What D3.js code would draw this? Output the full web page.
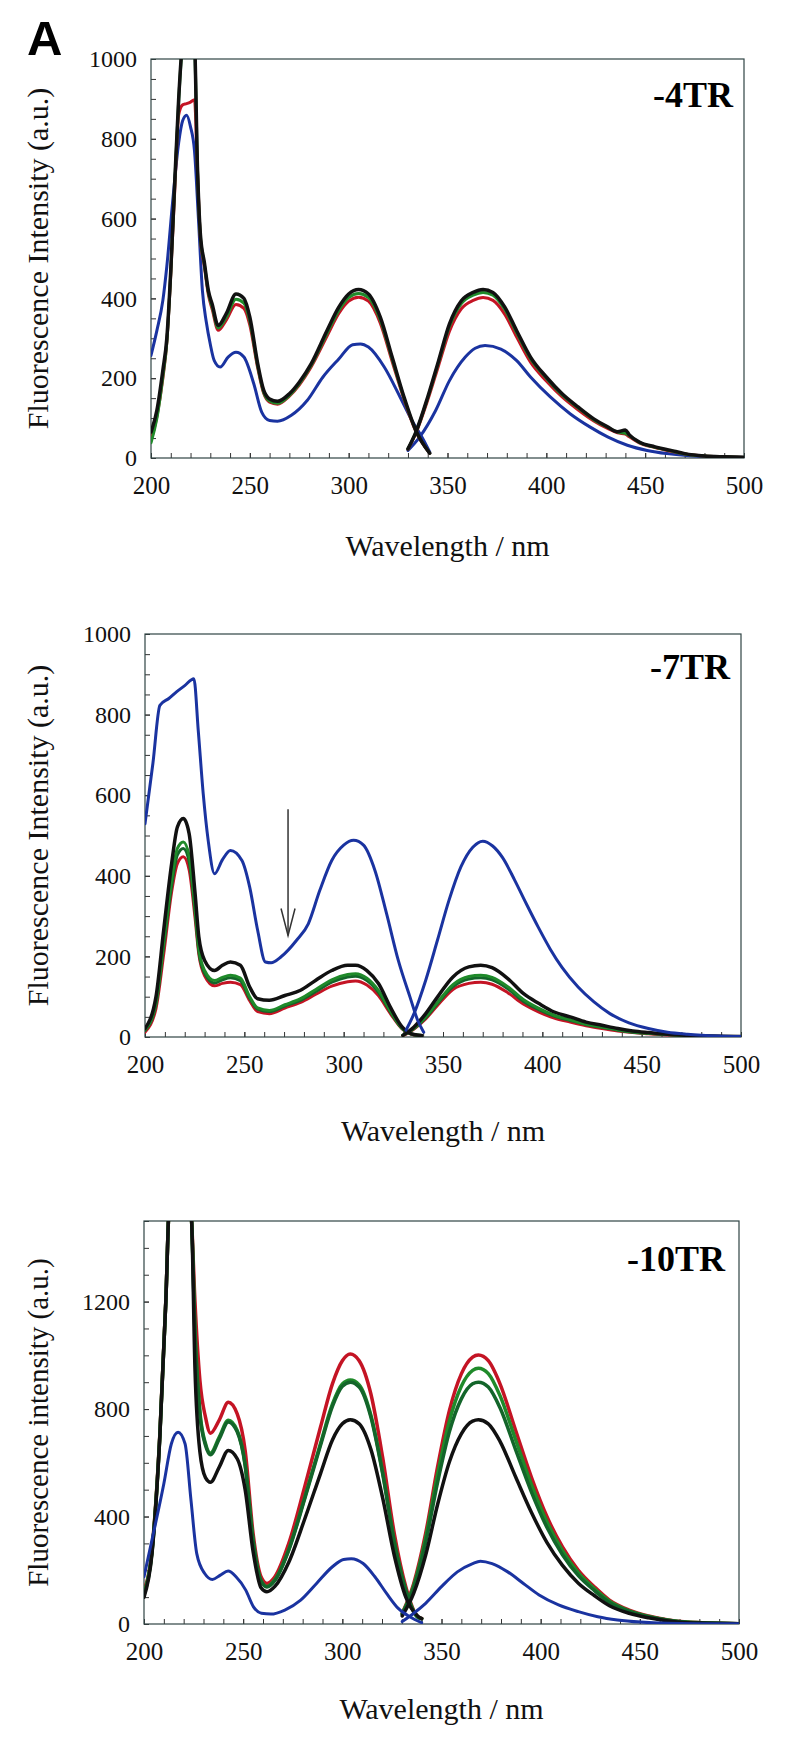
<!DOCTYPE html>
<html>
<head>
<meta charset="utf-8">
<script src="https://cdn.jsdelivr.net/npm/d3@7"></script>
<style>
  html, body { margin: 0; padding: 0; background: #fff; }
  svg { display: block; }
</style>
</head>
<body>
<script>
// ---------------- DATA ----------------
// Panel 1 (-4TR)
const p1W1 = [200,203,206,208,210,212,214,216,218,220,222,223.5,225,227,229,231,234,238,243,247,250,254,257,260,264,270,275,281,289,295,300,305,310,316,322,328,334,341];
const p1Black1 = [65,120,220,300,470,690,900,1050,1120,1120,1050,730,560,490,420,385,332,361,411,400,353,236,170,148,142,161,190,236,319,378,411,422,411,353,253,153,69,12];
const p1Red1   = [45,105,200,290,460,670,860,885,888,892,898,720,550,480,410,372,320,345,385,375,333,225,162,140,135,155,183,228,305,362,393,403,393,338,242,147,66,12];
const p1Green1 = [38,100,205,290,465,685,895,1045,1110,1110,1045,725,555,485,415,378,326,352,398,388,343,230,165,143,137,157,186,232,312,370,402,412,402,346,248,150,68,12];
const p1W2 = [330,334,340,345.5,351,357,363,368,373,379,385,392,400,408,416,424,431,436,440,442,447,455,463,470,480,490,500];
const p1Black2 = [23,65,153,244,336,394,415,422,415,378,319,253,203,161,128,98,78,66,70,58,40,28,19,11,5,3,2];
const p1Red2   = [22,62,145,232,318,374,395,402,395,360,303,240,193,153,121,93,74,63,60,53,38,26,17,10,5,3,1];
const p1Green2 = [23,64,150,240,330,387,408,415,408,372,314,249,200,158,126,96,77,65,62,56,39,27,18,10,5,3,1];
const p1BW1 = [200,203,206,208,211,214,216,218,220,222,224,226,228,230,232,235,239,243,247,252,256,260,264,271,279,287,295,302,306,310,318,326,332,338,341];
const p1Blue1 = [257,320,395,480,645,790,845,859,830,770,600,420,340,285,244,228,253,265,253,186,115,94,92,107,144,203,248,284,286,278,228,153,94,44,15];
const p1BW2 = [330,336,344,351,359,364,369,377,385,392,402,412,422,431,441,451,461,471,485,500];
const p1Blue2 = [19,53,119,194,253,275,282,273,244,203,153,111,78,53,32,19,11,6,3,1];

// Panel 2 (-7TR)
const p2W1 = [200,205.5,209.4,213.4,216.3,219.3,222.2,225.2,227.1,230,235,239,243,248,252.7,256.7,262.6,270.4,278.3,286,294,302,306,311.7,317.6,323.5,329.4,335.4,339.3];
const p2Black1  = [21,99,265,430,521,542,505,356,248,190,165,178,186,178,124,95,91,103,116,141,165,178,178,165,132,74,25,6,4];
const p2Green1  = [18,85,235,390,468,484,450,320,220,165,140,148,153,146,100,72,66,80,95,118,142,155,157,146,115,65,22,6,4];
const p2GreenB1 = [16,80,225,375,452,468,436,310,212,158,134,142,147,140,96,69,63,77,91,113,136,149,151,140,110,62,21,5,3];
const p2Red1    = [12,70,205,360,430,447,415,295,205,152,127,133,136,130,90,63,58,72,86,106,126,137,139,129,102,58,20,5,3];
const p2W2 = [329.8,335.4,341.3,347.2,355,363,369,374.7,382.6,390.4,398.3,406,414,422,430,438,445.5,453.4,463,473,483,500];
const p2Black2  = [4,25,58,99,149,174,178,172,145,108,83,62,50,37,29,21,15,11,7,4,2.5,1.5];
const p2Green2  = [4,22,50,86,130,150,153,148,125,93,71,54,43,32,25,18,13,9,6,3.5,2,1];
const p2GreenB2 = [4,21,48,83,125,144,147,142,120,89,68,52,41,31,24,17,12,9,6,3,2,1];
const p2Red2    = [3,20,45,78,118,133,136,131,110,82,62,47,37,28,21,15,11,8,5,3,2,1];
const p2BW1 = [200,204,207.5,212,216,220,224.6,226.8,229.3,231.8,235,239,243,248.8,252.7,256.7,260.6,263.5,268.5,276.3,282.2,288,294,300,305,310,315.7,321.6,327.5,333.4,337.3,340.3];
const p2Blue1 = [529,680,823,840,857,872,889,761,604,488,405,440,463,438,372,265,186,184,199,240,281,364,438,476,488,476,414,306,190,99,41,12];
const p2BW2 = [331.4,335.4,341.3,347.2,353,359,365,370,375,380,386,392,398,404,410,418,426,434,443.6,453.4,463,473,489,500];
const p2Blue2 = [17,58,141,240,339,422,471,486,474,445,390,330,272,218,172,124,87,58,35,21,12,7,2.5,1];
const p2Arrow = { wl: 272, from: 565, to: 252 };

// Panel 3 (-10TR)
const p3W1 = [200,204,208,211,213,218,222,224,225.7,228.2,231,233.5,238,242.5,247,251,255,259,262,266,273,281,289,295,300,304,308.5,314.4,320.3,326.2,332,338,340];
const p3Red1    = [126,275,708,1203,1600,1700,1650,1500,1200,906,770,710,760,825,782,646,337,176,151,176,300,510,733,894,980,1005,980,856,621,337,139,27,21];
const p3GreenB1 = [115,270,705,1200,1600,1700,1650,1500,1100,790,672,636,697,758,720,594,313,162,140,165,278,470,672,818,893,908,890,777,566,308,127,26,20];
const p3GreenD1 = [110,265,700,1200,1600,1700,1650,1500,1080,780,665,630,690,752,715,590,310,160,138,162,275,465,665,810,885,900,882,770,560,305,125,25,20];
const p3Black1  = [100,260,700,1200,1600,1700,1650,1500,950,640,545,528,585,646,615,500,270,135,120,140,230,390,560,685,745,760,745,650,470,255,100,30,20];
const p3W2 = [330.2,336,342,348,354,360,365.7,368.6,373.6,379.5,387.4,395.3,403.2,411,419,427,434.7,444.6,454.4,464.3,474,484,500];
const p3Red2    = [40,151,337,584,795,931,993,1001,980,894,720,547,399,287,200,139,89,52,30,15,7,4,1];
const p3GreenB2 = [38,143,320,555,756,885,944,952,932,850,685,520,380,273,190,132,85,49,28,14,7,4,1];
const p3GreenD2 = [36,136,303,526,716,838,894,900,882,805,648,492,359,258,180,125,80,47,27,14,6,4,1];
const p3Black2  = [30,115,256,444,604,708,755,760,745,680,547,416,303,218,152,106,68,40,23,11,5,3,1];
const p3BW1 = [200,204,210,213.8,217.2,220.7,223.7,226.6,230.6,234.5,238.5,242.4,246.4,251.3,255.2,259.2,264,271,279,287,295,300.6,304.5,310.5,316.4,322.3,328.2,334,340];
const p3Blue1 = [176,312,522,671,714,671,460,262,188,166,182,197,176,126,64,40,37,52,89,151,213,240,243,225,176,114,58,27,5];
const p3BW2 = [330.2,336,342,350,358,365.7,369.6,375.5,383.4,391.3,399.2,409,419,428.8,438.7,450.5,464,480,500];
const p3Blue2 = [9,40,77,139,194,225,234,225,194,151,108,71,46,27,15,7,2.5,1,0.5];

// Tick labels
const xTickLabels = [200,250,300,350,400,450,500];
const yTicks1000 = [0,200,400,600,800,1000];
const yTicks1500 = [0,400,800,1200];
const panelLabels = ["-4TR","-7TR","-10TR"];
const yTitles = ["Fluorescence Intensity (a.u.)","Fluorescence Intensity (a.u.)","Fluorescence intensity (a.u.)"];
const xTitle = "Wavelength / nm";

// ---------------- DRAWING ----------------
const C = { red:"#c41424", green:"#1f8a2a", greenD:"#13652a", blue:"#1a33a0", black:"#111111" };
const serif = "'Liberation Serif','Times New Roman',Times,serif";

const zip = (W, V) => W.map((w, i) => [w, V[i]]);

const panels = [
  { x0:151, x1:744, y0:59,   y1:458,  ymax:1000, yTicks:yTicks1000, yMinor:50,
    label:panelLabels[0], labelX:733, labelY:107, ytitle:yTitles[0], ytFont:30, xtY:98,
    series:[
      {c:C.blue,  w:3,   segs:[zip(p1BW1,p1Blue1), zip(p1BW2,p1Blue2)]},
      {c:C.red,   w:3,   segs:[zip(p1W1,p1Red1),   zip(p1W2,p1Red2)]},
      {c:C.green, w:3,   segs:[zip(p1W1,p1Green1), zip(p1W2,p1Green2)]},
      {c:C.black, w:3.5, segs:[zip(p1W1,p1Black1), zip(p1W2,p1Black2)]}
    ]},
  { x0:145, x1:741, y0:634,  y1:1037, ymax:1000, yTicks:yTicks1000, yMinor:50,
    label:panelLabels[1], labelX:730, labelY:679, ytitle:yTitles[1], ytFont:30, xtY:104,
    arrow:p2Arrow,
    series:[
      {c:C.red,    w:3,   segs:[zip(p2W1,p2Red1),    zip(p2W2,p2Red2)]},
      {c:C.greenD, w:3,   segs:[zip(p2W1,p2GreenB1), zip(p2W2,p2GreenB2)]},
      {c:C.green,  w:3,   segs:[zip(p2W1,p2Green1),  zip(p2W2,p2Green2)]},
      {c:C.black,  w:3.5, segs:[zip(p2W1,p2Black1),  zip(p2W2,p2Black2)]},
      {c:C.blue,   w:3,   segs:[zip(p2BW1,p2Blue1),  zip(p2BW2,p2Blue2)]}
    ]},
  { x0:144, x1:739, y0:1221, y1:1624, ymax:1500, yTicks:yTicks1500, yMinor:100,
    label:panelLabels[2], labelX:725, labelY:1271, ytitle:yTitles[2], ytFont:29, xtY:95,
    series:[
      {c:C.red,    w:3.5, segs:[zip(p3W1,p3Red1),    zip(p3W2,p3Red2)]},
      {c:C.green,  w:3.5, segs:[zip(p3W1,p3GreenB1), zip(p3W2,p3GreenB2)]},
      {c:C.greenD, w:3.5, segs:[zip(p3W1,p3GreenD1), zip(p3W2,p3GreenD2)]},
      {c:C.black,  w:3.5, segs:[zip(p3W1,p3Black1),  zip(p3W2,p3Black2)]},
      {c:C.blue,   w:3,   segs:[zip(p3BW1,p3Blue1),  zip(p3BW2,p3Blue2)]}
    ]}
];

const svg = d3.select("body").append("svg")
  .attr("width", 800).attr("height", 1750)
  .style("background", "#fff");

// Figure letter
svg.append("text").attr("x", 27).attr("y", 55)
  .attr("font-family", "'Liberation Sans',Arial,sans-serif")
  .attr("font-weight", "bold").attr("font-size", 49)
  .attr("fill", "#000").text("A");

panels.forEach((p, i) => {
  const x = d3.scaleLinear().domain([200, 500]).range([p.x0, p.x1]);
  const y = d3.scaleLinear().domain([0, p.ymax]).range([p.y1, p.y0]);
  const g = svg.append("g");

  const clipId = "clip" + i;
  svg.append("clipPath").attr("id", clipId).append("rect")
    .attr("x", p.x0).attr("y", p.y0).attr("width", p.x1 - p.x0).attr("height", p.y1 - p.y0);

  // minor x ticks (inward)
  g.append("g").attr("transform", `translate(0,${p.y1})`)
    .call(d3.axisBottom(x).tickValues(d3.range(200, 501, 10)).tickSize(-5).tickFormat(""))
    .call(a => a.select(".domain").remove())
    .call(a => a.selectAll("line").attr("stroke", "#333").attr("stroke-width", 1));
  // labelled x ticks
  g.append("g").attr("transform", `translate(0,${p.y1})`)
    .call(d3.axisBottom(x).tickValues(xTickLabels).tickSize(-5).tickPadding(18).tickFormat(d3.format("d")))
    .call(a => a.select(".domain").remove())
    .call(a => a.selectAll("line").attr("stroke", "#333").attr("stroke-width", 1))
    .call(a => a.selectAll("text").attr("font-family", serif).attr("font-size", 25).attr("fill", "#111"));

  // minor y ticks
  g.append("g").attr("transform", `translate(${p.x0},0)`)
    .call(d3.axisLeft(y).tickValues(d3.range(0, p.ymax + 1, p.yMinor)).tickSize(-5).tickFormat(""))
    .call(a => a.select(".domain").remove())
    .call(a => a.selectAll("line").attr("stroke", "#333").attr("stroke-width", 1));
  // labelled y ticks
  g.append("g").attr("transform", `translate(${p.x0},0)`)
    .call(d3.axisLeft(y).tickValues(p.yTicks).tickSize(-5).tickPadding(14).tickFormat(d3.format("d")))
    .call(a => a.select(".domain").remove())
    .call(a => a.selectAll("line").attr("stroke", "#333").attr("stroke-width", 1))
    .call(a => a.selectAll("text").attr("font-family", serif).attr("font-size", 24).attr("fill", "#111"));

  // frame
  g.append("rect").attr("x", p.x0).attr("y", p.y0)
    .attr("width", p.x1 - p.x0).attr("height", p.y1 - p.y0)
    .attr("fill", "none").attr("stroke", "#2f4444").attr("stroke-width", 1.2);

  // curves
  const line = d3.line().x(d => x(d[0])).y(d => y(d[1])).curve(d3.curveMonotoneX);
  const curves = g.append("g").attr("clip-path", `url(#${clipId})`);
  p.series.forEach(s => {
    s.segs.forEach(seg => {
      curves.append("path").attr("d", line(seg))
        .attr("fill", "none").attr("stroke", s.c).attr("stroke-width", s.w)
        .attr("stroke-linejoin", "round").attr("stroke-linecap", "round");
    });
  });

  // arrow
  if (p.arrow) {
    const ax = x(p.arrow.wl), ay0 = y(p.arrow.from), ay1 = y(p.arrow.to);
    g.append("line").attr("x1", ax).attr("x2", ax).attr("y1", ay0).attr("y2", ay1)
      .attr("stroke", "#333").attr("stroke-width", 1.5);
    g.append("path").attr("d", `M${ax - 7},${ay1 - 27} L${ax},${ay1} L${ax + 7},${ay1 - 27}`)
      .attr("fill", "none").attr("stroke", "#333").attr("stroke-width", 1.5);
  }

  // panel label
  g.append("text").attr("x", p.labelX).attr("y", p.labelY).attr("text-anchor", "end")
    .attr("font-family", serif).attr("font-weight", "bold").attr("font-size", 36)
    .attr("fill", "#000").text(p.label);

  // axis titles
  g.append("text").attr("x", (p.x0 + p.x1) / 2).attr("y", p.y1 + p.xtY)
    .attr("text-anchor", "middle").attr("font-family", serif).attr("font-size", 30)
    .attr("fill", "#111").text(xTitle);
  g.append("text")
    .attr("transform", `translate(48,${(p.y0 + p.y1) / 2}) rotate(-90)`)
    .attr("text-anchor", "middle").attr("font-family", serif).attr("font-size", p.ytFont)
    .attr("fill", "#111").text(p.ytitle);
});
</script>
</body>
</html>
